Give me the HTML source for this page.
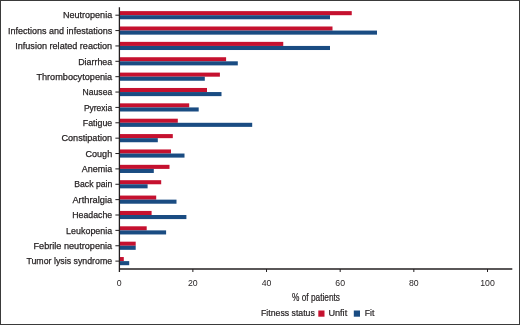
<!DOCTYPE html>
<html><head><meta charset="utf-8"><title>Adverse events by fitness status</title>
<style>
html,body{margin:0;padding:0;background:#fff;}
body{width:520px;height:325px;overflow:hidden;}
svg{display:block;font-family:"Liberation Sans",sans-serif;}
.lab{font-size:9.4px;fill:#231f20;text-anchor:end;stroke:#231f20;stroke-width:0.25px;}
.tick{font-size:9.4px;fill:#231f20;text-anchor:middle;}
</style></head><body>
<svg width="520" height="325" viewBox="0 0 520 325">
<rect x="0" y="0" width="520" height="325" fill="#fff"/>
<rect x="0.5" y="0.5" width="519" height="324" fill="none" stroke="#3a3a3a" stroke-width="1"/>

<rect x="119.50" y="11.12" width="232.25" height="4.08" fill="#c5112f"/>
<rect x="119.50" y="15.20" width="210.50" height="4.08" fill="#1a4c82"/>
<line x1="115.4" y1="15.20" x2="119.5" y2="15.20" stroke="#231f20" stroke-width="1"/>
<text class="lab" x="112.2" y="18.40" textLength="49.3" lengthAdjust="spacingAndGlyphs">Neutropenia</text>
<rect x="119.50" y="26.49" width="213.00" height="4.08" fill="#c5112f"/>
<rect x="119.50" y="30.57" width="257.50" height="4.08" fill="#1a4c82"/>
<line x1="115.4" y1="30.57" x2="119.5" y2="30.57" stroke="#231f20" stroke-width="1"/>
<text class="lab" x="112.2" y="33.77" textLength="104.2" lengthAdjust="spacingAndGlyphs">Infections and infestations</text>
<rect x="119.50" y="41.86" width="163.75" height="4.08" fill="#c5112f"/>
<rect x="119.50" y="45.94" width="210.50" height="4.08" fill="#1a4c82"/>
<line x1="115.4" y1="45.94" x2="119.5" y2="45.94" stroke="#231f20" stroke-width="1"/>
<text class="lab" x="112.2" y="49.14" textLength="97.0" lengthAdjust="spacingAndGlyphs">Infusion related reaction</text>
<rect x="119.50" y="57.23" width="106.60" height="4.08" fill="#c5112f"/>
<rect x="119.50" y="61.31" width="118.30" height="4.08" fill="#1a4c82"/>
<line x1="115.4" y1="61.31" x2="119.5" y2="61.31" stroke="#231f20" stroke-width="1"/>
<text class="lab" x="112.2" y="64.51" textLength="34.0" lengthAdjust="spacingAndGlyphs">Diarrhea</text>
<rect x="119.50" y="72.60" width="100.40" height="4.08" fill="#c5112f"/>
<rect x="119.50" y="76.68" width="85.30" height="4.08" fill="#1a4c82"/>
<line x1="115.4" y1="76.68" x2="119.5" y2="76.68" stroke="#231f20" stroke-width="1"/>
<text class="lab" x="112.2" y="79.88" textLength="75.8" lengthAdjust="spacingAndGlyphs">Thrombocytopenia</text>
<rect x="119.50" y="87.97" width="87.50" height="4.08" fill="#c5112f"/>
<rect x="119.50" y="92.05" width="102.00" height="4.08" fill="#1a4c82"/>
<line x1="115.4" y1="92.05" x2="119.5" y2="92.05" stroke="#231f20" stroke-width="1"/>
<text class="lab" x="112.2" y="95.25" textLength="29.6" lengthAdjust="spacingAndGlyphs">Nausea</text>
<rect x="119.50" y="103.34" width="69.70" height="4.08" fill="#c5112f"/>
<rect x="119.50" y="107.42" width="79.20" height="4.08" fill="#1a4c82"/>
<line x1="115.4" y1="107.42" x2="119.5" y2="107.42" stroke="#231f20" stroke-width="1"/>
<text class="lab" x="112.2" y="110.62" textLength="28.3" lengthAdjust="spacingAndGlyphs">Pyrexia</text>
<rect x="119.50" y="118.71" width="58.30" height="4.08" fill="#c5112f"/>
<rect x="119.50" y="122.79" width="132.70" height="4.08" fill="#1a4c82"/>
<line x1="115.4" y1="122.79" x2="119.5" y2="122.79" stroke="#231f20" stroke-width="1"/>
<text class="lab" x="112.2" y="125.99" textLength="29.4" lengthAdjust="spacingAndGlyphs">Fatigue</text>
<rect x="119.50" y="134.08" width="53.30" height="4.08" fill="#c5112f"/>
<rect x="119.50" y="138.16" width="38.30" height="4.08" fill="#1a4c82"/>
<line x1="115.4" y1="138.16" x2="119.5" y2="138.16" stroke="#231f20" stroke-width="1"/>
<text class="lab" x="112.2" y="141.36" textLength="50.8" lengthAdjust="spacingAndGlyphs">Constipation</text>
<rect x="119.50" y="149.45" width="51.50" height="4.08" fill="#c5112f"/>
<rect x="119.50" y="153.53" width="65.00" height="4.08" fill="#1a4c82"/>
<line x1="115.4" y1="153.53" x2="119.5" y2="153.53" stroke="#231f20" stroke-width="1"/>
<text class="lab" x="112.2" y="156.73" textLength="26.7" lengthAdjust="spacingAndGlyphs">Cough</text>
<rect x="119.50" y="164.82" width="50.00" height="4.08" fill="#c5112f"/>
<rect x="119.50" y="168.90" width="34.30" height="4.08" fill="#1a4c82"/>
<line x1="115.4" y1="168.90" x2="119.5" y2="168.90" stroke="#231f20" stroke-width="1"/>
<text class="lab" x="112.2" y="172.10" textLength="30.4" lengthAdjust="spacingAndGlyphs">Anemia</text>
<rect x="119.50" y="180.19" width="41.70" height="4.08" fill="#c5112f"/>
<rect x="119.50" y="184.27" width="28.10" height="4.08" fill="#1a4c82"/>
<line x1="115.4" y1="184.27" x2="119.5" y2="184.27" stroke="#231f20" stroke-width="1"/>
<text class="lab" x="112.2" y="187.47" textLength="37.9" lengthAdjust="spacingAndGlyphs">Back pain</text>
<rect x="119.50" y="195.56" width="36.70" height="4.08" fill="#c5112f"/>
<rect x="119.50" y="199.64" width="57.00" height="4.08" fill="#1a4c82"/>
<line x1="115.4" y1="199.64" x2="119.5" y2="199.64" stroke="#231f20" stroke-width="1"/>
<text class="lab" x="112.2" y="202.84" textLength="39.8" lengthAdjust="spacingAndGlyphs">Arthralgia</text>
<rect x="119.50" y="210.93" width="32.10" height="4.08" fill="#c5112f"/>
<rect x="119.50" y="215.01" width="66.90" height="4.08" fill="#1a4c82"/>
<line x1="115.4" y1="215.01" x2="119.5" y2="215.01" stroke="#231f20" stroke-width="1"/>
<text class="lab" x="112.2" y="218.21" textLength="39.9" lengthAdjust="spacingAndGlyphs">Headache</text>
<rect x="119.50" y="226.30" width="27.20" height="4.08" fill="#c5112f"/>
<rect x="119.50" y="230.38" width="46.60" height="4.08" fill="#1a4c82"/>
<line x1="115.4" y1="230.38" x2="119.5" y2="230.38" stroke="#231f20" stroke-width="1"/>
<text class="lab" x="112.2" y="233.58" textLength="46.1" lengthAdjust="spacingAndGlyphs">Leukopenia</text>
<rect x="119.50" y="241.67" width="16.20" height="4.08" fill="#c5112f"/>
<rect x="119.50" y="245.75" width="16.20" height="4.08" fill="#1a4c82"/>
<line x1="115.4" y1="245.75" x2="119.5" y2="245.75" stroke="#231f20" stroke-width="1"/>
<text class="lab" x="112.2" y="248.95" textLength="78.7" lengthAdjust="spacingAndGlyphs">Febrile neutropenia</text>
<rect x="119.50" y="257.04" width="4.30" height="4.08" fill="#c5112f"/>
<rect x="119.50" y="261.12" width="9.70" height="4.08" fill="#1a4c82"/>
<line x1="115.4" y1="261.12" x2="119.5" y2="261.12" stroke="#231f20" stroke-width="1"/>
<text class="lab" x="112.2" y="264.32" textLength="85.8" lengthAdjust="spacingAndGlyphs">Tumor lysis syndrome</text>
<line x1="119.4" y1="7.2" x2="119.4" y2="272" stroke="#231f20" stroke-width="1.3"/>
<line x1="119" y1="269" x2="512.3" y2="269" stroke="#231f20" stroke-width="1.3"/>
<text class="tick" x="119.20" y="286.4" textLength="4.86" lengthAdjust="spacingAndGlyphs">0</text>
<line x1="192.86" y1="269" x2="192.86" y2="272" stroke="#231f20" stroke-width="1"/>
<text class="tick" x="192.86" y="286.4" textLength="9.72" lengthAdjust="spacingAndGlyphs">20</text>
<line x1="266.52" y1="269" x2="266.52" y2="272" stroke="#231f20" stroke-width="1"/>
<text class="tick" x="266.52" y="286.4" textLength="9.72" lengthAdjust="spacingAndGlyphs">40</text>
<line x1="340.18" y1="269" x2="340.18" y2="272" stroke="#231f20" stroke-width="1"/>
<text class="tick" x="340.18" y="286.4" textLength="9.72" lengthAdjust="spacingAndGlyphs">60</text>
<line x1="413.84" y1="269" x2="413.84" y2="272" stroke="#231f20" stroke-width="1"/>
<text class="tick" x="413.84" y="286.4" textLength="9.72" lengthAdjust="spacingAndGlyphs">80</text>
<line x1="487.50" y1="269" x2="487.50" y2="272" stroke="#231f20" stroke-width="1"/>
<text class="tick" x="487.50" y="286.4" textLength="14.58" lengthAdjust="spacingAndGlyphs">100</text>
<text x="292" y="300.9" font-size="10.8" stroke="#231f20" stroke-width="0.22" fill="#231f20" textLength="48" lengthAdjust="spacingAndGlyphs">% of patients</text>
<text x="261" y="316.1" font-size="8.6" stroke="#231f20" stroke-width="0.2" fill="#231f20" textLength="53.8" lengthAdjust="spacingAndGlyphs">Fitness status</text>
<rect x="318.3" y="310.5" width="6.2" height="6.2" fill="#c5112f"/>
<text x="328.4" y="316.1" font-size="8.6" stroke="#231f20" stroke-width="0.2" fill="#231f20" textLength="18.8" lengthAdjust="spacingAndGlyphs">Unfit</text>
<rect x="353.8" y="310.5" width="6.2" height="6.2" fill="#1a4c82"/>
<text x="364.8" y="316.1" font-size="8.6" stroke="#231f20" stroke-width="0.2" fill="#231f20" textLength="9.6" lengthAdjust="spacingAndGlyphs">Fit</text>
</svg></body></html>
